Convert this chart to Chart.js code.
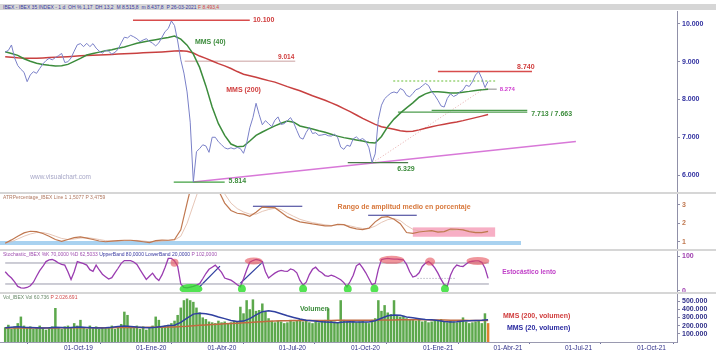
<!DOCTYPE html>
<html>
<head>
<meta charset="utf-8">
<script src="https://cdn.jsdelivr.net/npm/chart.js@4.4.0/dist/chart.umd.min.js"></script>
<style>
  body { margin: 0; background: #fff; width: 716px; height: 351px; overflow: hidden; position: relative; font-family: "Liberation Sans", Arial, sans-serif; }
  canvas { position: absolute; left: 0; }
  .bar { position: absolute; left: 0; width: 716px; background: #d6d6d6; }
  .cap { position: absolute; left: 3px; font-size: 5px; line-height: 6px; white-space: nowrap; z-index: 2; }
</style>
</head>
<body>
<div class="bar" style="top:4px;height:6px"></div>
<div class="cap" style="top:4px;color:#3838a0">IBEX - IBEX 35 INDEX - 1 d &nbsp;OH % 1,17 &nbsp;DH 13,2 &nbsp;M 8.515,8 &nbsp;m 8.437,8 &nbsp;P 26-03-2021 <span style="color:#d04848">F 8.493,4</span></div>
<canvas id="main" width="716" height="181" style="top:11px"></canvas>
<div class="bar" style="top:192px;height:2px"></div>
<canvas id="atr" width="716" height="55" style="top:194px"></canvas>
<div class="cap" style="top:194px;color:#b07860">ATRPercentage_IBEX Line 1 1,5077 P 3,4759</div>
<div class="bar" style="top:249px;height:2px"></div>
<canvas id="stoch" width="716" height="41" style="top:251px"></canvas>
<div class="cap" style="top:251px;color:#a050b0">Stochastic_IBEX %K 70,0000 %D 62,5033 <span style="color:#3838a0">UpperBand 80,0000 LowerBand 20,0000</span> P 102,0000</div>
<div class="bar" style="top:292px;height:2px"></div>
<canvas id="vol" width="716" height="57" style="top:294px"></canvas>
<div class="cap" style="top:294px;color:#6a8a6a">Vol_IBEX Vol 60.736 <span style="color:#d04848">P 2.026.691</span></div>

<script>
// sampled series: price/stochastic/volume every 4 days, averages and ATR every 8 days
const seriesStart = '2019-07-18';
const fineStep = 4;
const coarseStep = 8;

const price = [9258, 9300, 9444, 9100, 8900, 8800, 8720, 8472, 8650, 8737,
  8693, 8820, 8940, 9030, 9090, 9050, 9110, 9160, 9220, 8980,
  9000, 9100, 9280, 9450, 9480, 9400, 9488, 9400, 9480, 9360,
  9280, 9230, 9300, 9280, 9200, 9250, 9330, 9500, 9650, 9630,
  9700, 9660, 9610, 9532, 9576, 9610, 9540, 9490, 9420, 9500,
  9650, 9800, 9880, 10080, 9960, 9550, 9050, 8700, 8200, 7400,
  5814, 6620, 6700, 6800, 6770, 6600, 7000, 7000, 6880, 6800,
  6720, 6690, 6720, 6690, 6730, 6700, 6575, 6840, 7250, 7520,
  7900, 7600, 7330, 7440, 7360, 7280, 7450, 7540, 7340, 7360,
  7440, 7520, 7380, 7180, 6990, 6950, 7130, 7260, 7100, 7120,
  7050, 7060, 7080, 7040, 7030, 7080, 7000, 6740, 6680, 6790,
  6760, 6960, 7010, 6930, 6965, 6900, 6720, 6329, 6560, 7470,
  7850, 8020, 8100, 8170, 8200, 8170, 8290, 8245, 8110, 8070,
  8160, 8260, 8290, 8360, 8425, 8370, 8210, 8110, 7980, 7830,
  7800, 8030, 8150, 8080, 8120, 8200, 8250, 8380, 8345, 8470,
  8650, 8740, 8560, 8320, 8480];

const mms40 = [9266, 9220, 9170, 9080, 9015, 8960, 8930, 8908, 8890, 8895,
  8930, 9010, 9090, 9179, 9220, 9255, 9290, 9320, 9355, 9390,
  9440, 9490, 9525, 9555, 9585, 9615, 9645, 9680, 9600, 9440,
  9200, 8850, 8360, 7800, 7360, 7050, 6820, 6750, 6760, 6900,
  7050, 7140, 7220, 7300, 7370, 7430, 7400, 7300, 7260, 7220,
  7170, 7130, 7080, 7030, 6990, 6960, 6930, 6900, 6860, 6850,
  7020, 7280, 7480, 7640, 7780, 7910, 8060, 8150, 8207, 8207,
  8195, 8170, 8170, 8195, 8215, 8240, 8255, 8274];

const mms200 = [9134, 9120, 9105, 9095, 9090, 9092, 9100, 9110, 9120, 9128,
  9135, 9145, 9157, 9165, 9172, 9179, 9186, 9195, 9203, 9211,
  9220, 9228, 9236, 9245, 9252, 9260, 9270, 9282, 9292, 9280,
  9230, 9150, 9090, 9020, 8950, 8890, 8820, 8740, 8670, 8630,
  8590, 8545, 8500, 8460, 8400, 8340, 8285, 8230, 8165, 8100,
  8040, 7980, 7910, 7840, 7760, 7680, 7590, 7500, 7420, 7340,
  7280, 7245, 7210, 7175, 7150, 7160, 7195, 7240, 7280, 7315,
  7345, 7375, 7405, 7440, 7480, 7520, 7560, 7600];

const atr = [0.92, 1.1, 1.3, 1.48, 1.57, 1.55, 1.45, 1.3, 1.12, 1.02,
  1.12, 1.22, 1.26, 1.2, 1.12, 1.04, 1.0, 1.03, 1.06, 1.08,
  1.08, 1.05, 1.0, 0.95, 1.06, 1.09, 1.08, 1.12, 1.65, 3.1,
  4.5, 5.6, 5.2, 4.5, 3.8, 3.1, 2.7, 2.55, 2.5, 2.38,
  2.6, 2.88, 2.85, 2.85, 2.6, 2.35, 2.2, 2.08, 2.03, 1.97,
  1.92, 1.86, 1.86, 1.95, 1.93, 1.78, 1.7, 1.66, 1.74, 2.08,
  2.32, 2.36, 2.22, 1.98, 1.5, 1.45, 1.53, 1.57, 1.6, 1.52,
  1.55, 1.69, 1.68, 1.64, 1.55, 1.5, 1.5, 1.56];

const atrSignal = [0.95, 1.0, 1.15, 1.3, 1.42, 1.5, 1.5, 1.42, 1.3, 1.18,
  1.12, 1.15, 1.2, 1.22, 1.18, 1.12, 1.06, 1.04, 1.04, 1.06,
  1.07, 1.07, 1.04, 1.0, 1.0, 1.04, 1.07, 1.09, 1.3, 2.0,
  3.0, 4.0, 4.6, 4.6, 4.2, 3.6, 3.1, 2.8, 2.62, 2.5,
  2.5, 2.65, 2.75, 2.82, 2.75, 2.55, 2.38, 2.22, 2.12, 2.04,
  1.98, 1.92, 1.88, 1.9, 1.92, 1.86, 1.78, 1.72, 1.72, 1.85,
  2.05, 2.2, 2.26, 2.15, 1.88, 1.68, 1.58, 1.56, 1.58, 1.56,
  1.55, 1.6, 1.64, 1.65, 1.6, 1.55, 1.52, 1.52];

const stoch = [55, 45, 37, 26, 13, 9, 8, 10, 15, 25,
  42, 58, 70, 84, 89, 90, 86, 80, 76, 74,
  55, 33, 55, 84, 81, 78, 74, 61, 56, 74,
  60, 48, 41, 34, 38, 52, 65, 79, 87, 87,
  87, 83, 76, 61, 47, 33, 42, 51, 38, 30,
  46, 68, 93, 93, 86, 71, 20, 10, 9, 11,
  13, 17, 21, 35, 50, 62, 68, 74, 64, 53,
  37, 34, 31, 25, 18, 12, 35, 60, 82, 87,
  90, 88, 84, 55, 37, 44, 51, 56, 59, 57,
  56, 63, 60, 52, 30, 17, 25, 47, 62, 68,
  58, 52, 44, 42, 45, 42, 37, 32, 24, 12,
  27, 45, 72, 78, 66, 52, 35, 18, 22, 62,
  90, 92, 93, 92, 91, 91, 90, 89, 76, 55,
  40, 43, 52, 70, 79, 84, 77, 66, 51, 33,
  18, 14, 45, 64, 74, 71, 70, 77, 83, 85,
  86, 86, 82, 66, 36];

// volume in thousands
const volume = [180, 210, 160, 190, 230, 310, 200, 170,
  190, 160, 180, 200, 170, 150, 180, 190,
  415, 170, 160, 190, 200, 180, 230, 200,
  270, 180, 160, 200, 170, 190, 160, 180,
  170, 180, 200, 160, 190, 220, 370, 330,
  180, 170, 200, 160, 190, 150, 170, 200,
  310, 270, 190, 200, 210, 230, 260, 330,
  420, 510, 530, 510, 490, 420, 360, 300,
  280, 250, 240, 230, 260, 240, 250, 230,
  240, 260, 250, 430, 350, 510, 400, 520,
  380, 390, 470, 370, 290, 260, 240, 260,
  250, 230, 240, 270, 250, 260, 280, 250,
  270, 240, 230, 250, 240, 260, 270, 410,
  260, 250, 240, 510, 270, 250, 240, 260,
  240, 250, 260, 240, 230, 270, 290, 510,
  380, 450, 360, 340, 510, 330, 310, 320,
  290, 270, 280, 260, 270, 250, 260, 240,
  250, 270, 260, 280, 250, 240, 260, 250,
  240, 260, 300, 250, 230, 240, 250, 260,
  230, 350, 230];

const volMms20 = [175, 180, 185, 180, 178, 175, 172, 175, 180, 178,
  175, 180, 182, 178, 175, 172, 175, 180, 190, 195,
  190, 182, 178, 175, 180, 190, 200, 205, 240, 290,
  340, 350, 345, 330, 305, 285, 262, 250, 255, 285,
  330, 370, 380, 370, 345, 320, 300, 280, 265, 258,
  250, 245, 240, 236, 245, 248, 245, 243, 245, 260,
  290, 320, 330, 325, 305, 295, 285, 275, 270, 262,
  250, 245, 248, 255, 258, 262, 265, 270];

const volMms200 = [172, 172, 171, 171, 171, 172, 172, 172, 172, 173,
  173, 173, 174, 174, 174, 175, 175, 175, 176, 176,
  177, 178, 178, 179, 180, 181, 182, 184, 188, 192,
  198, 203, 208, 213, 218, 222, 226, 230, 234, 238,
  243, 248, 252, 256, 258, 260, 261, 262, 262, 263,
  263, 263, 263, 264, 264, 264, 264, 265, 265, 266,
  267, 268, 269, 270, 270, 270, 270, 270, 269, 268,
  267, 266, 265, 264, 263, 262, 262, 262];

const quarterDates = ['2019-10-01', '2020-01-01', '2020-04-01', '2020-07-01', '2020-10-01',
  '2021-01-01', '2021-04-01', '2021-07-01', '2021-10-01'];
const quarterLabels = ['01-Oct-19', '01-Ene-20', '01-Abr-20', '01-Jul-20', '01-Oct-20',
  '01-Ene-21', '01-Abr-21', '01-Jul-21', '01-Oct-21'];

const priceTicks = [6000, 7000, 8000, 9000, 10000];
const atrTicks = [1, 2, 3];
const stochTicks = [0, 100];
const volTicks = [100, 200, 300, 400, 500];

// drawn levels / trend lines
const priceLevels = [
  { from: '2019-12-28', to: '2020-05-25', v1: 10100, color: '#d84c4c', width: 1.5 },
  { from: '2020-03-03', to: '2020-07-22', v1: 9014, color: '#dcc0c0', width: 1.5 },
  { from: '2021-01-20', to: '2021-05-20', v1: 8740, color: '#d84c4c', width: 1.5 },
  { from: '2020-11-24', to: '2021-04-03', v1: 8490, color: '#9ad47a', width: 1.5, dash: [2, 2] },
  { from: '2021-03-21', to: '2021-04-05', v1: 8274, color: '#8a8a8a', width: 1 },
  { from: '2021-01-12', to: '2021-05-14', v1: 7713, color: '#4c9c4c', width: 1.3 },
  { from: '2020-11-30', to: '2021-05-14', v1: 7663, color: '#4c9c4c', width: 1.3 },
  { from: '2020-09-27', to: '2020-12-13', v1: 6329, color: '#4a7a4a', width: 1.3 },
  { from: '2020-02-18', to: '2020-04-23', v1: 5814, color: '#40a040', width: 1.3 },
  { from: '2020-03-14', to: '2021-07-15', v1: 5814, v2: 6886, color: '#d878d8', width: 1.5 },
  { from: '2020-10-29', to: '2021-03-24', v1: 6329, v2: 8346, color: 'rgba(225,150,150,0.8)', width: 1, dash: [1, 2] }
];
const atrLevels = [
  { from: '2019-07-01', to: '2021-05-06', v1: 0.93, color: '#a9d2f0', width: 4 },
  { from: '2020-05-29', to: '2020-07-31', v1: 2.93, color: '#333390', width: 1.2 },
  { from: '2020-10-23', to: '2020-12-24', v1: 2.44, color: '#333390', width: 1.2 }
];
const stochLevels = [
  { from: '2019-07-18', to: '2021-03-26', v1: 80, color: '#9a9aac', width: 1 },
  { from: '2019-07-18', to: '2021-03-26', v1: 20, color: '#9a9aac', width: 1 },
  { from: '2020-12-25', to: '2021-02-12', v1: 36, color: '#9a9aac', width: 1, dash: [1, 2] },
  { from: '2020-03-22', to: '2020-04-17', v1: 12, v2: 71, color: '#3040a0', width: 1.2 },
  { from: '2020-05-13', to: '2020-06-11', v1: 22, v2: 84, color: '#3040a0', width: 1.2 }
];

const priceNotes = [
  { kind: 'text', at: '2020-05-29', v: 10115, text: '10.100', color: '#d03c3c' },
  { kind: 'text', at: '2020-06-30', v: 9126, text: '9.014', color: '#d03c3c', size: 6.5 },
  { kind: 'text', at: '2020-03-16', v: 9523, text: 'MMS (40)', color: '#3c8c3c' },
  { kind: 'text', at: '2020-04-25', v: 8252, text: 'MMS (200)', color: '#d03c3c' },
  { kind: 'text', at: '2021-05-01', v: 8861, text: '8.740', color: '#d03c3c' },
  { kind: 'text', at: '2021-04-09', v: 8260, text: '8.274', color: '#d040d0', size: 6 },
  { kind: 'text', at: '2021-05-19', v: 7608, text: '7.713 / 7.663', color: '#3c8c3c' },
  { kind: 'text', at: '2020-11-29', v: 6159, text: '6.329', color: '#3c8c3c' },
  { kind: 'text', at: '2020-04-28', v: 5841, text: '5.814', color: '#3c8c3c' },
  { kind: 'text', at: '2019-08-19', v: 5947, text: 'www.visualchart.com', color: '#a8a8c8', size: 6.5, weight: 'normal' }
];
const atrNotes = [
  { kind: 'box', from: '2020-12-19', to: '2021-04-03', lo: 1.27, hi: 1.78, color: 'rgba(240,110,150,0.55)' },
  { kind: 'text', at: '2020-09-14', v: 2.89, text: 'Rango de amplitud medio en porcentaje', color: '#d8783c' }
];
const stochNotes = [
  { kind: 'ellipse', at: '2020-02-19', v: 81, rx: 4, ry: 4, color: 'rgba(230,80,90,0.6)' },
  { kind: 'ellipse', at: '2020-05-30', v: 86, rx: 9, ry: 3.5, color: 'rgba(230,80,90,0.6)' },
  { kind: 'ellipse', at: '2020-11-22', v: 89, rx: 12.5, ry: 4, color: 'rgba(230,80,90,0.6)' },
  { kind: 'ellipse', at: '2021-01-10', v: 84, rx: 5, ry: 4, color: 'rgba(230,80,90,0.6)' },
  { kind: 'ellipse', at: '2021-03-12', v: 86, rx: 11.5, ry: 4, color: 'rgba(230,80,90,0.6)' },
  { kind: 'ellipse', at: '2020-03-11', v: 6, rx: 11.5, ry: 5, color: 'rgba(40,220,40,0.8)' },
  { kind: 'ellipse', at: '2020-05-15', v: 6, rx: 4, ry: 4.5, color: 'rgba(40,220,40,0.8)' },
  { kind: 'ellipse', at: '2020-08-01', v: 6, rx: 4, ry: 4.5, color: 'rgba(40,220,40,0.8)' },
  { kind: 'ellipse', at: '2020-09-27', v: 6, rx: 4, ry: 4.5, color: 'rgba(40,220,40,0.8)' },
  { kind: 'ellipse', at: '2020-10-31', v: 6, rx: 4, ry: 4.5, color: 'rgba(40,220,40,0.8)' },
  { kind: 'ellipse', at: '2021-01-29', v: 6, rx: 4, ry: 4.5, color: 'rgba(40,220,40,0.8)' },
  { kind: 'text', at: '2021-04-12', v: 55, text: 'Estocástico lento', color: '#c040c8', size: 6.5 }
];
const volNotes = [
  { kind: 'text', at: '2020-07-28', v: 403, text: 'Volumen', color: '#3c8c3c' },
  { kind: 'text', at: '2021-04-13', v: 318, text: 'MMS (200, volumen)', color: '#d03c3c' },
  { kind: 'text', at: '2021-04-18', v: 176, text: 'MMS (20, volumen)', color: '#2a2aa0' }
];

const family = '"Liberation Sans", Arial, sans-serif';
const origin = Date.UTC(2019, 9, 1);
const day = s => { const [y, m, d] = s.split('-').map(Number); return (Date.UTC(y, m - 1, d) - origin) / 864e5; };
const xMin = -81.64, xMax = 782;
const dots = v => String(Math.round(v)).replace(/\B(?=(\d{3})+(?!\d))/g, '.');

const pts = (vals, step) => vals.map((v, i) => ({ x: day(seriesStart) + i * step, y: v }));

function lineSet(data, color, width, extra) {
  return Object.assign({ type: 'line', data, borderColor: color, borderWidth: width, pointRadius: 0, tension: 0 }, extra || {});
}
function levelSets(list) {
  return list.map(s => lineSet([{ x: day(s.from), y: s.v1 }, { x: day(s.to), y: s.v2 ?? s.v1 }],
    s.color, s.width, { borderDash: s.dash || [] }));
}

function drawNotes(chart, list) {
  const { ctx, scales: { x, y } } = chart;
  ctx.save();
  list.forEach(n => {
    if (n.kind === 'box') {
      const x1 = x.getPixelForValue(day(n.from)), x2 = x.getPixelForValue(day(n.to));
      const y1 = y.getPixelForValue(n.hi), y2 = y.getPixelForValue(n.lo);
      ctx.fillStyle = n.color;
      ctx.fillRect(x1, y1, x2 - x1, y2 - y1);
    } else if (n.kind === 'ellipse') {
      ctx.beginPath();
      ctx.ellipse(x.getPixelForValue(day(n.at)), y.getPixelForValue(n.v), n.rx, n.ry, 0, 0, Math.PI * 2);
      ctx.fillStyle = n.color;
      ctx.fill();
    } else {
      ctx.font = `${n.weight || 'bold'} ${n.size || 7}px ${family}`;
      ctx.fillStyle = n.color;
      ctx.textBaseline = 'middle';
      ctx.textAlign = 'left';
      ctx.fillText(n.text, x.getPixelForValue(day(n.at)), y.getPixelForValue(n.v));
    }
  });
  ctx.restore();
}
const notes = items => ({
  id: 'notes',
  beforeDatasetsDraw: c => drawNotes(c, items.filter(n => n.kind === 'box')),
  afterDatasetsDraw: c => drawNotes(c, items.filter(n => n.kind !== 'box'))
});

function xScale(show) {
  return {
    type: 'linear', min: xMin, max: xMax, display: show, offset: false,
    afterBuildTicks: a => { a.ticks = quarterDates.map(d => ({ value: day(d) })); },
    afterFit: a => { a.paddingLeft = 0; a.paddingRight = 0; if (show) a.height = 9; },
    grid: { drawOnChartArea: false, tickLength: 2, color: '#7070a0' },
    border: { color: '#9a9ab0' },
    ticks: { align: 'start', padding: 0, autoSkip: false, maxRotation: 0, color: '#30308a',
      font: { size: 6.5, family }, callback: (v, i) => quarterLabels[i] }
  };
}
function yScale(min, max, ticks, color, fmt) {
  return {
    position: 'right', min, max,
    afterBuildTicks: a => { a.ticks = ticks.map(v => ({ value: v })); },
    afterFit: a => { a.width = 39; a.paddingTop = 0; a.paddingBottom = 0; },
    grid: { drawOnChartArea: false, tickLength: 3, color: '#9090a8' },
    border: { color: '#9090a8' },
    ticks: { autoSkip: false, padding: 2, color, font: { size: 7, weight: 'bold', family }, callback: fmt }
  };
}
const baseOptions = (y, showX) => ({
  responsive: false, animation: false, events: [],
  layout: { padding: 0 },
  plugins: { legend: { display: false }, tooltip: { enabled: false } },
  scales: { x: xScale(showX), y }
});

new Chart(document.getElementById('main'), {
  type: 'line',
  data: { datasets: [
    lineSet(pts(price, fineStep), '#7a80c8', 1),
    lineSet(pts(mms40, coarseStep), '#3c8c3c', 1.5),
    lineSet(pts(mms200, coarseStep), '#c84040', 1.5),
    ...levelSets(priceLevels)
  ] },
  options: baseOptions(yScale(5550, 10344, priceTicks, '#3030a0', v => dots(v)), false),
  plugins: [notes(priceNotes)]
});

new Chart(document.getElementById('atr'), {
  type: 'line',
  data: { datasets: [
    lineSet(pts(atr, coarseStep), '#c07850', 1.2),
    lineSet(pts(atrSignal, coarseStep), '#e0b8a4', 0.8),
    ...levelSets(atrLevels)
  ] },
  options: baseOptions(yScale(0.605, 3.595, atrTicks, '#c07850', v => v), false),
  plugins: [notes(atrNotes)]
});

new Chart(document.getElementById('stoch'), {
  type: 'line',
  data: { datasets: [
    lineSet(pts(stoch, fineStep), '#9a3cb0', 1.3),
    ...levelSets(stochLevels)
  ] },
  options: baseOptions(yScale(-2.9, 114.3, stochTicks, '#a040b0', v => v), false),
  plugins: [notes(stochNotes)]
});

new Chart(document.getElementById('vol'), {
  type: 'bar',
  data: { datasets: [
    lineSet(pts(volMms20, coarseStep), '#3040a0', 1.5),
    lineSet(pts(volMms200, coarseStep), '#c06a40', 1.5),
    { type: 'bar', data: pts(volume, fineStep),
      backgroundColor: volume.map((v, i) => i === volume.length - 1 ? '#e08030' : '#5ca84c'),
      barPercentage: 0.8, categoryPercentage: 1 }
  ] },
  options: baseOptions(yScale(0, 585.6, volTicks, '#30308a', v => dots(v * 1000)), true),
  plugins: [notes(volNotes)]
});
</script>
</body>
</html>
